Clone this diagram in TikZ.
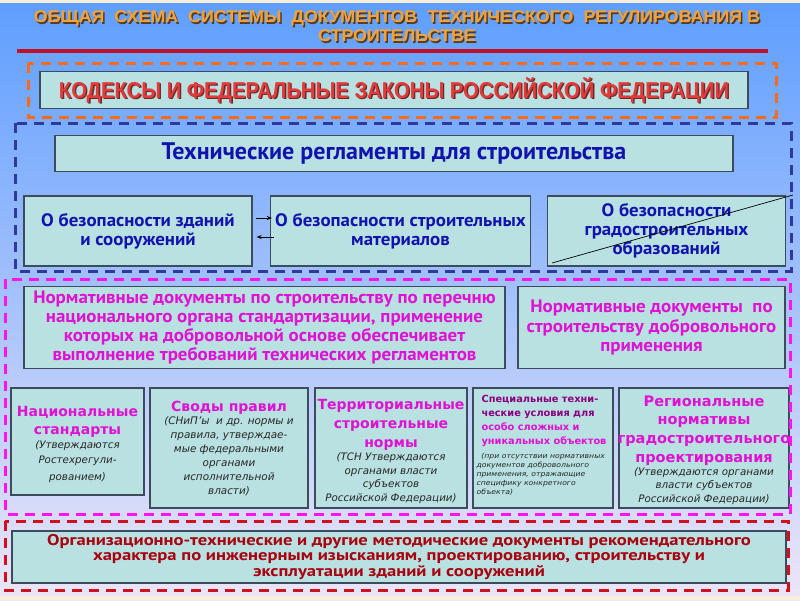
\documentclass[tikz,border=0pt]{standalone}
\usepackage{fontspec}
\usetikzlibrary{arrows.meta}
\setmainfont{Liberation Sans}
\newfontfamily\ttlfont[FakeStretch=1.05]{Liberation Sans}
\newfontfamily\codfont[FakeStretch=0.88]{Liberation Sans}
\newfontfamily\nfont[FakeStretch=1.05]{PT Sans}
\newfontfamily\tfont{PT Sans}
\newfontfamily\mfont[FakeStretch=1.2]{PT Sans}
\newfontfamily\wfont{DejaVu Sans}
\newfontfamily\tinyfont[FakeStretch=1.1]{DejaVu Sans}
\definecolor{bgtop}{HTML}{5E9EFF}
\definecolor{bgmid}{HTML}{A6C4F4}
\definecolor{bgbot}{HTML}{ECE6F8}
\definecolor{beige}{HTML}{F8EEDC}
\definecolor{boxfill}{HTML}{B9E1E1}
\definecolor{boxline}{HTML}{3C4C5C}
\definecolor{navy}{HTML}{1212AE}
\definecolor{magtext}{HTML}{E010D4}
\definecolor{darkmag}{HTML}{8A0080}
\definecolor{darkred}{HTML}{A8000E}
\definecolor{codered}{HTML}{E43A3A}
\definecolor{codeshadow}{HTML}{6A2A2A}
\definecolor{ttlorange}{HTML}{F2A238}
\definecolor{ttlshadow}{HTML}{5A3A18}
\definecolor{rule}{HTML}{C0102A}
\definecolor{grporange}{HTML}{FF6A18}
\definecolor{grpnavy}{HTML}{32389A}
\definecolor{grppink}{HTML}{FF14F0}
\definecolor{grpred}{HTML}{D0101C}
\begin{document}
\begin{tikzpicture}[x=1pt,y=-1pt,
  bx/.style={draw=boxline, fill=boxfill, line width=1.3pt, inner sep=0pt},
  grp/.style={line width=3pt, dash pattern=on 10pt off 7pt},
  tx/.style={inner sep=0pt, align=center},
  hdr/.style={tx, font=\wfont\bfseries\fontsize{14}{18}\selectfont, text=magtext},
  itl/.style={tx, font=\wfont\itshape\fontsize{10.4}{14}\selectfont, text=black!85},
  navytx/.style={tx, font=\nfont\bfseries\fontsize{18}{19}\selectfont, text=navy},
  magtx/.style={tx, font=\nfont\bfseries\fontsize{18}{19.3}\selectfont, text=magtext},
  arr/.style={-{Stealth[length=5pt,width=4pt]}, line width=0.7pt, black}
]
\useasboundingbox (0,0) rectangle (800,600);
% background
\shade[top color=bgtop, middle color=bgmid, bottom color=bgbot] (0,0) rectangle (800,600);
\fill[beige] (0,0) rectangle (800,2.5);
\fill[beige] (0,596) rectangle (800,600);

% title
\node[tx, font=\ttlfont\bfseries\fontsize{17}{19}\selectfont, text=ttlshadow] (ttlsh) at (398.5,28)
  {ОБЩАЯ\ \ СХЕМА\ \ СИСТЕМЫ\ \ ДОКУМЕНТОВ\ \ ТЕХНИЧЕСКОГО\ \ РЕГУЛИРОВАНИЯ В\\СТРОИТЕЛЬСТВЕ};
\node[tx, font=\ttlfont\bfseries\fontsize{17}{19}\selectfont, text=ttlorange] (ttl) at (397,26.5)
  {ОБЩАЯ\ \ СХЕМА\ \ СИСТЕМЫ\ \ ДОКУМЕНТОВ\ \ ТЕХНИЧЕСКОГО\ \ РЕГУЛИРОВАНИЯ В\\СТРОИТЕЛЬСТВЕ};
\coordinate (ruleL) at (17,51);
\coordinate (ruleR) at (768,51);
\draw[rule, line width=3.2pt] (ruleL) -- (ruleR);

% codes
\node[bx, minimum width=708pt, minimum height=37pt] (codes) at (394,90) {};
\node[tx, font=\codfont\bfseries\fontsize{23}{26}\selectfont, text=codeshadow] (codessh) at ([xshift=1.3pt,yshift=-1.3pt]codes.center)
  {КОДЕКСЫ И ФЕДЕРАЛЬНЫЕ ЗАКОНЫ РОССИЙСКОЙ ФЕДЕРАЦИИ};
\node[tx, font=\codfont\bfseries\fontsize{23}{26}\selectfont, text=codered] (codestx) at (codes.center)
  {КОДЕКСЫ И ФЕДЕРАЛЬНЫЕ ЗАКОНЫ РОССИЙСКОЙ ФЕДЕРАЦИИ};

% technical regulations
\node[bx, minimum width=678pt, minimum height=36pt, navytx, font=\tfont\bfseries\fontsize{24}{26}\selectfont] (treg) at (394,153.5)
  {Технические регламенты для строительства};
\node[bx, minimum width=228pt, minimum height=70pt, navytx] (ra) at (138,231)
  {О безопасности зданий\\и сооружений};
\node[bx, minimum width=260pt, minimum height=70pt, navytx] (rb) at (400.5,231)
  {О безопасности строительных\\материалов};
\node[bx, minimum width=238pt, minimum height=70pt, navytx] (rc) at (666.5,231)
  {О безопасности\\градостроительных\\образований};
\draw[arr] ([xshift=3pt,yshift=13pt]ra.east) -- ([xshift=2pt,yshift=13pt]rb.west);
\draw[arr] ([xshift=4pt,yshift=-6pt]rb.west) -- ([xshift=4pt,yshift=-6pt]ra.east);
\coordinate (slashA) at (552,263);
\coordinate (slashB) at (793,195);
\draw[black, line width=0.7pt] (slashA) -- (slashB);

% normative documents
\node[bx, minimum width=481pt, minimum height=82pt, magtx] (nd1) at (264.5,327.5)
  {Нормативные документы по строительству по перечню\\национального органа стандартизации, применение\\которых на добровольной основе обеспечивает\\выполнение требований технических регламентов};
\node[bx, minimum width=267pt, minimum height=82pt, magtx] (nd2) at (651.5,327.5)
  {Нормативные документы\ \ по\\строительству добровольного\\применения};

% bottom row
\node[bx, minimum width=133pt, minimum height=107pt] (b1) at (77.5,441.5) {};
\node[bx, minimum width=158pt, minimum height=120pt] (b2) at (229,448) {};
\node[bx, minimum width=152pt, minimum height=120pt] (b3) at (391,448) {};
\node[bx, minimum width=140pt, minimum height=120pt] (b4) at (543,448) {};
\node[bx, minimum width=170pt, minimum height=120pt] (b5) at (704,448) {};

\node[hdr, anchor=north] (b1h) at ([yshift=-19pt]b1.north) {Национальные\\стандарты};
\node[itl, anchor=north, font=\wfont\itshape\fontsize{10.3}{15}\selectfont] (b1i) at ([yshift=-53pt]b1.north) {(Утверждаются\\Ростехрегули-\\[2pt]рованием)};

\node[hdr, anchor=north] (b2h) at ([yshift=-14pt]b2.north) {Своды правил};
\node[itl, anchor=north] (b2i) at ([yshift=-29pt]b2.north) {(СНиП’ы\ \ и др. нормы и\\правила, утверждае-\\мые федеральными\\органами\\исполнительной\\власти)};

\node[hdr, anchor=north, font=\wfont\bfseries\fontsize{14}{18.7}\selectfont] (b3h) at ([yshift=-12pt]b3.north) {Территориальные\\строительные\\нормы};
\node[itl, anchor=north, font=\wfont\itshape\fontsize{10.3}{13.7}\selectfont] (b3i) at ([yshift=-65pt]b3.north) {(ТСН Утверждаются\\органами власти\\субъектов\\Российской Федерации)};

\node[tx, anchor=north west, align=left, font=\wfont\bfseries\fontsize{9.8}{14}\selectfont, text=darkmag] (b4h) at ([xshift=9pt,yshift=-8pt]b4.north west)
  {Специальные техни-\\ческие условия для\\\textcolor{magtext}{особо сложных и}\\\textcolor{magtext}{уникальных объектов}};
\node[tx, anchor=north west, align=left, font=\tinyfont\itshape\fontsize{7}{9}\selectfont, text=black!85] (b4i) at ([xshift=4pt,yshift=-66pt]b4.north west)
  {\ \ (при отсутствии нормативных\\документов добровольного\\применения, отражающие\\специфику конкретного\\объекта)};

\node[hdr, anchor=north, font=\wfont\bfseries\fontsize{14.5}{18.7}\selectfont] (b5h) at ([yshift=-8pt]b5.north) {Региональные\\нормативы\\градостроительного\\проектирования};
\node[itl, anchor=north, font=\wfont\itshape\fontsize{10.3}{13.5}\selectfont] (b5i) at ([yshift=-80pt]b5.north) {(Утверждаются органами\\власти субъектов\\Российской Федерации)};

% bottom methodical docs
\node[bx, minimum width=774pt, minimum height=52pt, tx, font=\mfont\bfseries\fontsize{15.5}{15.5}\selectfont, text=darkred] (meth) at (399,557)
  {Организационно-технические и другие методические документы рекомендательного\\характера по инженерным изысканиям, проектированию, строительству и\\эксплуатации зданий и сооружений};

% dashed groups
\draw[grp, grporange] (28,63) rectangle (776,117);
\draw[grp, grpnavy] (15,123) rectangle (791,271);
\draw[grp, grppink] (5,279) rectangle (790,514);
\draw[grp, grpred] (5,521) rectangle (788,590);
\end{tikzpicture}
\end{document}
